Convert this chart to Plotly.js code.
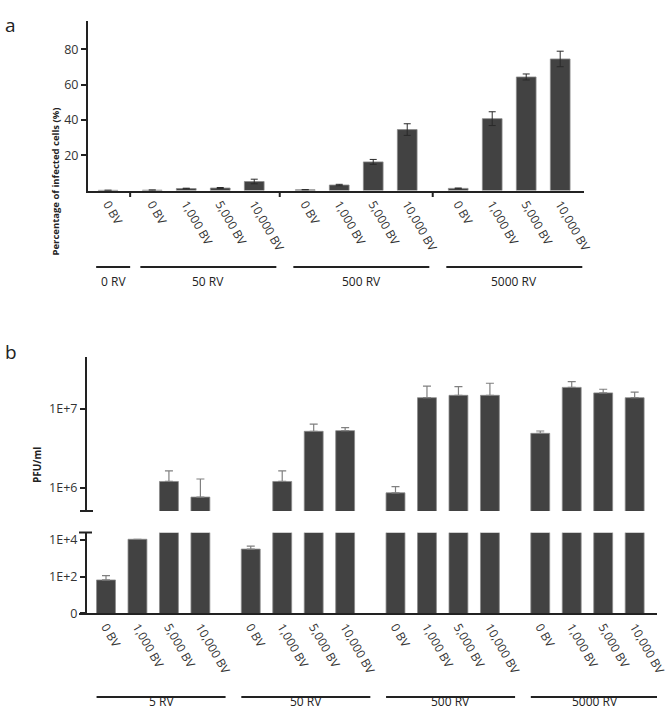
<!DOCTYPE html>
<html><head><meta charset="utf-8">
<script src="https://cdn.plot.ly/plotly-3.0.1.min.js"></script>
<style>html,body{margin:0;padding:0;background:#fff}</style>
</head><body><div id="chart" style="width:666px;height:717px"></div>
<script>
// ---------- DATA ----------
const bvLabels = ['0 BV', '1,000 BV', '5,000 BV', '10,000 BV'];

// Panel a: percentage of infected cells
const aGroups = ['0 RV', '50 RV', '500 RV', '5000 RV'];
const aCounts = [1, 4, 4, 4];
const aValues = [0.1, 0.2, 1.1, 1.4, 5.1, 0.4, 3.1, 16.2, 34.5, 1.2, 40.7, 64.3, 74.5];
const aErrors = [0.05, 0.1, 0.2, 0.3, 1.3, 0.1, 0.4, 1.4, 3.3, 0.2, 3.9, 1.7, 4.4];
const aTickVals = [20, 40, 60, 80];

// Panel b: PFU/ml (upward error only)
const bGroups = ['5 RV', '50 RV', '500 RV', '5000 RV'];
const bCounts = [4, 4, 4, 4];
const bValues = [66, 11000, 1.2e6, 7.6e5,
                 3200, 1.2e6, 5.2e6, 5.3e6,
                 8.6e5, 1.39e7, 1.49e7, 1.49e7,
                 4.9e6, 1.88e7, 1.6e7, 1.39e7];
const bErrors = [47, 0, 4.4e5, 5.3e5,
                 1500, 4.4e5, 1.2e6, 5e5,
                 1.7e5, 5.6e6, 4.3e6, 6.3e6,
                 3.5e5, 3.4e6, 1.8e6, 2.5e6];
const bUpperTicks = [1e6, 1e7];
const bUpperText = ['1E+6', '1E+7'];
const bLowerTicks = [1, 100, 1e4];
const bLowerText = ['0', '1E+2', '1E+4'];

// ---------- LAYOUT HELPERS ----------
const W = 666, H = 717;
const X = p => p / W;
const Y = p => 1 - p / H;
const FONT = '"Open Sans", Lato, sans-serif';
const INK = '#222';
const BAR = '#424242';

function positions(counts, gaps) {
  const pos = [], labels = [], groups = [];
  let x = 0;
  counts.forEach((n, g) => {
    if (g > 0) x += gaps[g];
    const start = x;
    for (let i = 0; i < n; i++) {
      pos.push(x);
      labels.push(n === 1 ? bvLabels[0] : bvLabels[i]);
      if (i < n - 1) x += 1;
    }
    groups.push([start, x]);
  });
  return {pos, labels, groups};
}

const A = positions(aCounts, [0, 1.3, 1.5, 1.5]);
const B = positions(bCounts, [0, 1.6, 1.6, 1.6]);

const traces = [];
traces.push({
  type: 'bar', x: A.pos, y: aValues, xaxis: 'x', yaxis: 'y',
  width: 0.58,
  marker: {color: BAR, line: {color: '#8a8a8a', width: 0.8}},
  error_y: {type: 'data', array: aErrors, visible: true, color: '#2a2a2a', thickness: 1, width: 3.5},
  hoverinfo: 'skip', showlegend: false
});

const upperMin = 5.704, upperMax = 7.66, lowerMax = 4.4;
// lower segment
traces.push({
  type: 'bar', x: B.pos, y: bValues, xaxis: 'x2', yaxis: 'y2',
  width: 0.6,
  marker: {color: BAR, line: {color: '#8a8a8a', width: 0.8}},
  error_y: {type: 'data', symmetric: false, visible: true,
    array: bValues.map((v, i) => Math.log10(v) < lowerMax ? bErrors[i] : 0),
    arrayminus: bValues.map(() => 0), color: '#808080', thickness: 1.2, width: 4},
  hoverinfo: 'skip', showlegend: false
});
// upper segment
traces.push({
  type: 'bar', x: B.pos, y: bValues, xaxis: 'x2', yaxis: 'y3',
  width: 0.6,
  marker: {color: BAR, line: {color: '#8a8a8a', width: 0.8}},
  error_y: {type: 'data', symmetric: false, visible: true,
    array: bValues.map((v, i) => Math.log10(v) > upperMin ? bErrors[i] : 0),
    arrayminus: bValues.map(() => 0), color: '#808080', thickness: 1.2, width: 4},
  hoverinfo: 'skip', showlegend: false
});

const shapes = [], annotations = [];
// Panel a group boundary ticks
for (let g = 0; g < A.groups.length - 1; g++) {
  const xm = (A.groups[g][1] + A.groups[g + 1][0]) / 2;
  shapes.push({type: 'line', xref: 'x', yref: 'paper', x0: xm, x1: xm, y0: Y(191), y1: Y(197), line: {color: INK, width: 2}});
}
// Group lines + labels
A.groups.forEach((gr, g) => {
  shapes.push({type: 'line', xref: 'x', yref: 'paper', x0: gr[0] - 0.35, x1: gr[1] + 0.65, y0: Y(267), y1: Y(267), line: {color: INK, width: 2.2}});
  annotations.push({xref: 'x', yref: 'paper', x: (gr[0] - 0.35 + gr[1] + 0.65) / 2, y: Y(281), text: aGroups[g], showarrow: false, font: {family: FONT, size: 12, color: INK}});
});
B.groups.forEach((gr, g) => {
  shapes.push({type: 'line', xref: 'x2', yref: 'paper', x0: gr[0] - 0.3, x1: gr[1] + 0.8, y0: Y(697), y1: Y(697), line: {color: INK, width: 2.2}});
  annotations.push({xref: 'x2', yref: 'paper', x: (gr[0] - 0.3 + gr[1] + 0.8) / 2, y: Y(712), text: bGroups[g], showarrow: false, font: {family: FONT, size: 12, color: INK}});
});
// Broken axis caps
shapes.push({type: 'line', xref: 'paper', yref: 'paper', x0: X(80), x1: X(93), y0: Y(511), y1: Y(511), line: {color: INK, width: 2}});
shapes.push({type: 'line', xref: 'paper', yref: 'paper', x0: X(79), x1: X(92), y0: Y(532.5), y1: Y(532.5), line: {color: INK, width: 2}});

annotations.push({xref: 'paper', yref: 'paper', x: X(3), y: Y(10), xanchor: 'left', text: 'a', showarrow: false, font: {family: FONT, size: 19, color: INK}});
annotations.push({xref: 'paper', yref: 'paper', x: X(3), y: Y(352), xanchor: 'left', text: 'b', showarrow: false, font: {family: FONT, size: 19, color: INK}});
annotations.push({xref: 'paper', yref: 'paper', x: X(46), y: Y(106), textangle: -90, text: '<b>Percentage of infected cells (%)</b>', showarrow: false, font: {family: FONT, size: 9.5, color: INK}});
annotations.push({xref: 'paper', yref: 'paper', x: X(28), y: Y(485), textangle: -90, text: '<b>PFU/ml</b>', showarrow: false, font: {family: FONT, size: 10, color: INK}});

const tickFont = {family: FONT, size: 12.5, color: '#333'};
const xTickFont = {family: FONT, size: 12, color: '#333'};

const layout = {
  width: W, height: H,
  margin: {l: 0, r: 0, t: 0, b: 0},
  paper_bgcolor: '#fff', plot_bgcolor: 'rgba(0,0,0,0)',
  bargap: 0,
  font: {family: FONT, color: INK},
  xaxis: {
    domain: [X(88), X(584)], anchor: 'y', range: [-0.59, 14.0],
    tickmode: 'array', tickvals: A.pos, ticktext: A.labels, tickangle: 60,
    ticks: '', showline: true, linecolor: INK, linewidth: 2, showgrid: false, zeroline: false,
    tickfont: xTickFont, ticklabeloverflow: 'allow', fixedrange: true
  },
  yaxis: {
    domain: [Y(190.5), Y(21)], anchor: 'x', range: [0, 96],
    tickmode: 'array', tickvals: aTickVals, ticks: 'outside', ticklen: 5, tickwidth: 2, tickcolor: INK,
    showline: true, linecolor: INK, linewidth: 2, showgrid: false, zeroline: false,
    tickfont: tickFont, fixedrange: true
  },
  xaxis2: {
    domain: [X(79), X(657)], anchor: 'y2', range: [-0.858, 17.51],
    tickmode: 'array', tickvals: B.pos, ticktext: B.labels, tickangle: 60,
    ticks: '', showline: true, linecolor: INK, linewidth: 2, showgrid: false, zeroline: false,
    tickfont: xTickFont, ticklabeloverflow: 'allow', fixedrange: true
  },
  yaxis2: {
    domain: [Y(613.3), Y(532.7)], anchor: 'free', position: X(86), type: 'log', range: [0, lowerMax],
    tickmode: 'array', tickvals: bLowerTicks, ticktext: bLowerText, ticks: 'outside', ticklen: 5, tickwidth: 2, tickcolor: INK,
    showline: true, linecolor: INK, linewidth: 2, showgrid: false, zeroline: false,
    tickfont: tickFont, fixedrange: true
  },
  yaxis3: {
    domain: [Y(511), Y(357)], anchor: 'free', position: X(86), type: 'log', range: [upperMin, upperMax],
    tickmode: 'array', tickvals: bUpperTicks, ticktext: bUpperText, ticks: 'outside', ticklen: 5, tickwidth: 2, tickcolor: INK,
    showline: true, linecolor: INK, linewidth: 2, showgrid: false, zeroline: false,
    tickfont: tickFont, fixedrange: true
  },
  shapes, annotations
};

Plotly.newPlot('chart', traces, layout, {staticPlot: true, displayModeBar: false});
</script>
</body></html>
